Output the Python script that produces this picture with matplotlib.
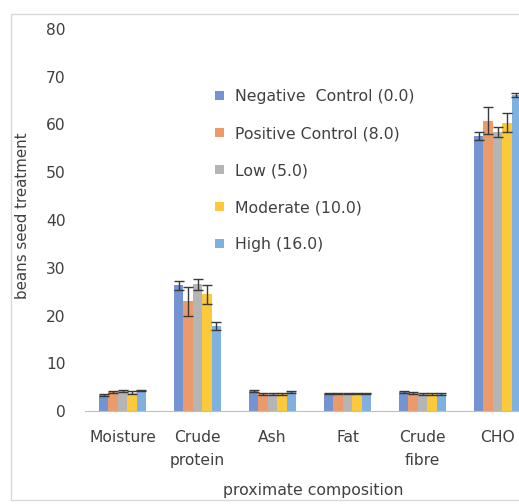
import numpy as np
import matplotlib
matplotlib.use("Agg")
import matplotlib.pyplot as plt
from matplotlib.patches import Rectangle

# ------------------------------------------------------------------------------
#   Data
# ------------------------------------------------------------------------------
categories = ["Moisture", "Crude\nprotein", "Ash", "Fat", "Crude\nfibre", "CHO"]
series = ["Negative  Control (0.0)", "Positive Control (8.0)", "Low (5.0)",
          "Moderate (10.0)", "High (16.0)"]

negative = [3.3, 26.3, 4.1, 3.6, 4.0, 57.6]
positive = [4.0, 23.0, 3.5, 3.6, 3.8, 60.8]
low = [4.2, 26.5, 3.5, 3.6, 3.6, 58.4]
moderate = [3.8, 24.4, 3.6, 3.6, 3.6, 60.4]
high = [4.3, 17.8, 3.9, 3.6, 3.6, 66.2]

neg_err = [0.2, 1.0, 0.2, 0.1, 0.2, 0.8]
pos_err = [0.2, 3.0, 0.2, 0.1, 0.2, 2.8]
low_err = [0.2, 1.2, 0.2, 0.1, 0.2, 1.0]
mod_err = [0.3, 2.0, 0.2, 0.1, 0.2, 2.0]
high_err = [0.2, 0.8, 0.2, 0.1, 0.2, 0.5]

colors = ["#7393d1", "#eb9a6b", "#b5b5b5", "#fcc93a", "#7eb1df"]
txt = "#404040"


def main():
    plt.rcParams['font.family'] = ['DejaVu Sans']
    fig = plt.figure(figsize=(5.19, 5.04), dpi=100)

    # chart frame (cut off on the right like the reference)
    fig.patches.append(Rectangle((11 / 519, 4 / 504), 1.2, 486 / 504,
                                 transform=fig.transFigure, fill=False,
                                 edgecolor="#d9d9d9", linewidth=1.0))

    ax = fig.add_axes([85 / 519, 1 - 411 / 504, 450 / 519, 382 / 504])

    values = [negative, positive, low, moderate, high]
    errors = [neg_err, pos_err, low_err, mod_err, high_err]
    x = np.arange(len(categories))
    w = 0.126
    for i, (v, e) in enumerate(zip(values, errors)):
        ax.bar(x + (i - 2) * w, v, w, color=colors[i], label=series[i],
               yerr=e, capsize=3.5,
               error_kw=dict(ecolor="#3a3a3a", elinewidth=1.0, capthick=1.0))

    ax.set_xlim(-0.5, len(categories) - 0.5)
    ax.set_ylim(0, 80)
    ax.set_yticks(range(0, 81, 10))
    ax.set_xticks(x)
    ax.set_xticklabels(categories, fontsize=11.2, color=txt,
                       linespacing=1.6)
    ax.tick_params(axis='y', length=0, labelsize=11.2, labelcolor=txt,
                   pad=14)
    ax.tick_params(axis='x', length=0, pad=14)
    for s in ["top", "right", "left"]:
        ax.spines[s].set_visible(False)
    ax.spines["bottom"].set_color("#bfbfbf")

    fig.text(23 / 519, 1 - 216 / 504, "beans seed treatment", rotation=90,
             ha="center", va="center", fontsize=10.8, color=txt)
    fig.text(313 / 519, 1 - 491 / 504, "proximate composition",
             ha="center", va="center", fontsize=11.3, color=txt)

    ax.legend(loc="upper left", bbox_to_anchor=(201 / 519, 1 - 75 / 504),
              bbox_transform=fig.transFigure, frameon=False, fontsize=11.3,
              labelspacing=1.4, handlelength=0.55, handleheight=0.55,
              handletextpad=0.7, labelcolor=txt)

    fig.savefig("out.png", dpi=100)


if __name__ == '__main__':
    plt.close('all')
    main()
